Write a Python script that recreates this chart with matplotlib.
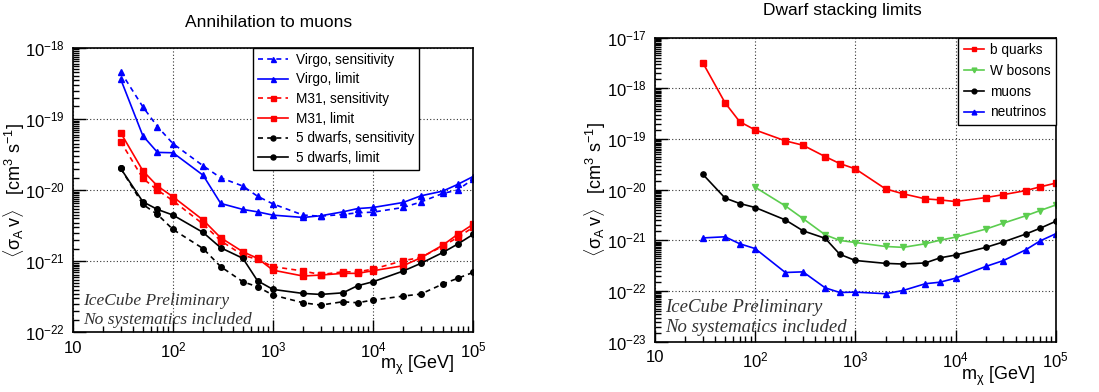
import matplotlib
matplotlib.use("Agg")
import matplotlib.pyplot as plt
import matplotlib.ticker as ticker
import numpy as np

plt.rcParams['font.family'] = ['Liberation Sans', 'DejaVu Sans']
plt.rcParams['mathtext.fontset'] = 'custom'
plt.rcParams['mathtext.rm'] = 'Liberation Sans'
plt.rcParams['mathtext.it'] = 'Liberation Sans'
plt.rcParams['mathtext.sf'] = 'Liberation Sans'

# WIMP masses in GeV
mass = [30, 50, 70, 100, 200, 300, 500, 700, 1000, 2000, 3000, 5000, 7000,
        10000, 20000, 30000, 50000, 70000, 100000]
mass_w = mass[3:]

# left panel: annihilation to muons
virgo_sens = [4.6e-19, 1.48e-19, 7.8e-20, 4.5e-20, 2.2e-20, 1.49e-20, 1.14e-20, 8.2e-21,
              6.4e-21, 4.46e-21, 4.3e-21, 4.55e-21, 4.8e-21, 4.9e-21, 5.7e-21, 6.8e-21,
              9.0e-21, 1.0e-20, 1.43e-20]
virgo_lim = [3.63e-19, 5.8e-20, 3.39e-20, 3.35e-20, 1.62e-20, 6.5e-21, 5.35e-21, 4.95e-21,
             4.45e-21, 4.13e-21, 4.36e-21, 4.95e-21, 5.5e-21, 5.7e-21, 6.7e-21, 8.3e-21,
             9.7e-21, 1.2e-20, 1.55e-20]
m31_sens = [4.8e-20, 1.46e-20, 1.0e-20, 7.1e-21, 3.33e-21, 1.94e-21, 1.22e-21, 1.06e-21,
            8.4e-22, 7.3e-22, 6.5e-22, 7.1e-22, 7.1e-22, 7.76e-22, 1.02e-21, 1.13e-21,
            1.63e-21, 2.16e-21, 2.99e-21]
m31_lim = [6.4e-20, 1.87e-20, 1.14e-20, 8.06e-21, 3.8e-21, 2.14e-21, 1.36e-21, 1.1e-21,
           7.5e-22, 6.2e-22, 6.4e-22, 6.76e-22, 6.76e-22, 7.36e-22, 8.65e-22, 1.12e-21,
           1.69e-21, 2.38e-21, 3.3e-21]
dwarf_sens = [2.02e-20, 6.3e-21, 4.55e-21, 2.8e-21, 1.51e-21, 8.4e-22, 5.15e-22, 4.38e-22,
              3.35e-22, 2.61e-22, 2.42e-22, 2.7e-22, 2.61e-22, 2.85e-22, 3.24e-22, 3.46e-22,
              4.79e-22, 5.75e-22, 6.97e-22]
dwarf_lim = [2.02e-20, 6.86e-21, 5.35e-21, 4.46e-21, 2.54e-21, 1.55e-21, 1.1e-21, 5.32e-22,
             4.02e-22, 3.53e-22, 3.42e-22, 3.6e-22, 4.53e-22, 5.15e-22, 7.28e-22, 9.33e-22,
             1.33e-21, 1.74e-21, 2.38e-21]

# right panel: dwarf stacking limits per channel
bquarks = [3.2e-18, 5.2e-19, 2.2e-19, 1.51e-19, 9.2e-20, 7.55e-20, 4.5e-20, 3.28e-20,
           2.58e-20, 1.04e-20, 8.3e-21, 6.6e-21, 6.3e-21, 5.85e-21, 7.0e-21, 8.0e-21,
           9.6e-21, 1.14e-20, 1.35e-20]
wbosons = [1.12e-20, 4.8e-21, 2.7e-21, 1.29e-21, 1.0e-21, 9.1e-22, 7.6e-22, 7.3e-22,
           8.6e-22, 1.01e-21, 1.16e-21, 1.67e-21, 2.19e-21, 3.05e-21, 3.89e-21, 5.0e-21]
muons = dwarf_lim
neutrinos = [1.12e-21, 1.18e-21, 8.6e-22, 6.9e-22, 2.33e-22, 2.4e-22, 1.16e-22, 9.4e-23,
             9.55e-23, 8.9e-23, 1.03e-22, 1.4e-22, 1.5e-22, 1.8e-22, 3.06e-22, 4.0e-22,
             6.5e-22, 9.8e-22, 1.35e-21]

green = '#5ccd4f'
dash = (0, (3, 2.5))


def xfmt(v, pos):
    e = int(round(np.log10(v)))
    return '10' if e == 1 else r'10$^{%d}$' % e


def yfmt(v, pos):
    e = int(round(np.log10(v)))
    return r'10$^{%d}$' % e


def style_axes(ax, ymin, ymax, ylab_x, xlab_x, note_y, note_size):
    ax.set_xscale('log')
    ax.set_yscale('log')
    ax.set_xlim(10, 1e5)
    ax.set_ylim(ymin, ymax)
    ax.xaxis.set_major_locator(ticker.LogLocator(base=10, numticks=10))
    ax.xaxis.set_minor_locator(ticker.LogLocator(base=10, subs=np.arange(2, 10), numticks=20))
    ax.yaxis.set_major_locator(ticker.LogLocator(base=10, numticks=10))
    ax.yaxis.set_minor_locator(ticker.LogLocator(base=10, subs=np.arange(1.5, 10, 0.5), numticks=20))
    ax.xaxis.set_major_formatter(ticker.FuncFormatter(xfmt))
    ax.yaxis.set_major_formatter(ticker.FuncFormatter(yfmt))
    ax.xaxis.set_minor_formatter(ticker.NullFormatter())
    ax.yaxis.set_minor_formatter(ticker.NullFormatter())
    ax.tick_params(which='both', direction='in', top=False, right=False, labelsize=12, width=1, colors='black')
    ax.tick_params(which='major', length=9, pad=6)
    ax.tick_params(which='minor', length=4.5)
    ax.grid(True, which='major', linestyle=(0, (1, 2)), color='#333333', linewidth=0.8)
    for s in ax.spines.values():
        s.set_linewidth(1.2)
    ax.set_ylabel(r'$\langle\sigma_{A}\,v\rangle$   [cm$^{3}$ s$^{-1}$]', fontsize=13)
    ax.yaxis.set_label_coords(ylab_x, 0.5)
    ax.text(xlab_x, -0.115, r'm$_{\chi}$ [GeV]', transform=ax.transAxes, fontsize=13,
            ha='right', va='center')
    ax.text(0.025, note_y[0], 'IceCube Preliminary', transform=ax.transAxes, fontsize=note_size,
            family='Liberation Serif', style='italic', color='#333333', va='center')
    ax.text(0.025, note_y[1], 'No systematics included', transform=ax.transAxes, fontsize=note_size,
            family='Liberation Serif', style='italic', color='#333333', va='center')


fig = plt.figure(figsize=(10.99, 3.92), dpi=100)
ax1 = fig.add_axes([0.0664, 0.152, 0.364, 0.726])
ax2 = fig.add_axes([0.596, 0.128, 0.3646, 0.776])

kw = dict(linewidth=1.2, markersize=4)
ax1.plot(mass, virgo_sens, color='blue', marker='^', linestyle=dash, label='Virgo, sensitivity', **kw)
ax1.plot(mass, virgo_lim, color='blue', marker='^', linestyle='-', label='Virgo, limit', **kw)
ax1.plot(mass, m31_sens, color='red', marker='s', linestyle=dash, label='M31, sensitivity', **kw)
ax1.plot(mass, m31_lim, color='red', marker='s', linestyle='-', label='M31, limit', **kw)
ax1.plot(mass, dwarf_sens, color='black', marker='o', linestyle=dash, label='5 dwarfs, sensitivity', **kw)
ax1.plot(mass, dwarf_lim, color='black', marker='o', linestyle='-', label='5 dwarfs, limit', **kw)
style_axes(ax1, 1e-22, 1e-18, -0.115, 0.953, (0.11, 0.043), 12.5)
fig.text(269 / 1099, 1 - 22.7 / 392, 'Annihilation to muons', fontsize=12.5, ha='center', va='center')
leg1 = ax1.legend(loc='upper right', bbox_to_anchor=(0.865, 1.0), fontsize=9.8, frameon=True,
                  fancybox=False, edgecolor='black', framealpha=1, borderaxespad=0,
                  handlelength=2.2, handletextpad=0.6, labelspacing=0.42, borderpad=0.35,
                  markerscale=0.9)
leg1.get_frame().set_linewidth(1.0)

kw2 = dict(linewidth=1.2, markersize=3.8)
ax2.plot(mass, bquarks, color='red', marker='s', label='b quarks', **kw2)
ax2.plot(mass_w, wbosons, color=green, marker='v', label='W bosons', **kw2)
ax2.plot(mass, muons, color='black', marker='o', label='muons', **kw2)
ax2.plot(mass, neutrinos, color='blue', marker='^', label='neutrinos', **kw2)
style_axes(ax2, 1e-23, 1e-17, -0.117, 0.948, (0.112, 0.046), 13.5)
fig.text(842 / 1099, 1 - 10 / 392, 'Dwarf stacking limits', fontsize=12.5, ha='center', va='center')
leg2 = ax2.legend(loc='upper right', fontsize=9.8, frameon=True, fancybox=False,
                  edgecolor='black', framealpha=1, borderaxespad=0, handlelength=1.5,
                  handletextpad=0.4, labelspacing=0.5, borderpad=0.4, markerscale=0.9)
leg2.get_frame().set_linewidth(1.0)

fig.savefig('out.png', dpi=100)
